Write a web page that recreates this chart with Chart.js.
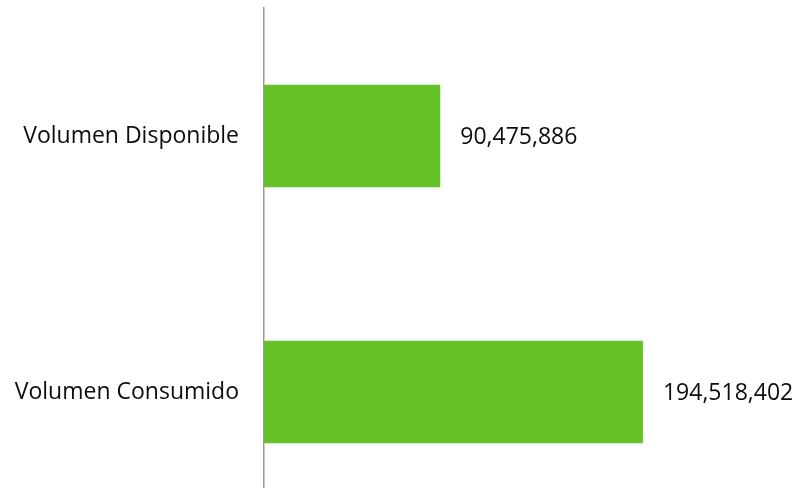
<!DOCTYPE html>
<html>
<head>
<meta charset="utf-8">
<script src="https://cdn.jsdelivr.net/npm/chart.js@4"></script>
<style>
  html, body { margin: 0; padding: 0; background: #fff; overflow: hidden; }
  canvas { display: block; }
</style>
</head>
<body>
<canvas id="chart" width="798" height="520" style="width:798px;height:520px"></canvas>
<script>
// Volumes per category
const categories = ['Volumen Disponible', 'Volumen Consumido'];
const volumes = [90475886, 194518402];
const axisMax = 270000000;

const barColor = '#65C125';
const textColor = '#0d0d0d';
const fontFamily = '"Open Sans", "Noto Sans", sans-serif';

// Writes each bar's value just past its end
const valueLabels = {
  id: 'valueLabels',
  afterDatasetsDraw(chart) {
    const ctx = chart.ctx;
    const meta = chart.getDatasetMeta(0);
    ctx.save();
    ctx.font = '23px ' + fontFamily;
    ctx.fillStyle = textColor;
    ctx.textAlign = 'left';
    ctx.textBaseline = 'middle';
    meta.data.forEach((bar, i) => {
      const v = chart.data.datasets[0].data[i];
      ctx.fillText(v.toLocaleString('en-US'), bar.x + 20, bar.y + 1);
    });
    ctx.restore();
  }
};

new Chart(document.getElementById('chart'), {
  type: 'bar',
  data: {
    labels: categories,
    datasets: [{
      data: volumes,
      backgroundColor: barColor,
      borderWidth: 0,
      categoryPercentage: 0.8,
      barPercentage: 0.5
    }]
  },
  options: {
    indexAxis: 'y',
    responsive: false,
    animation: false,
    layout: { padding: { top: 8, right: 8, left: 0, bottom: 0 } },
    plugins: { legend: { display: false }, tooltip: { enabled: false } },
    scales: {
      x: {
        display: false,
        min: 0,
        max: axisMax
      },
      y: {
        afterFit(scale) {
          scale.width = 264;
          scale.paddingTop = 0;
          scale.paddingBottom = 0;
        },
        grid: { display: false, drawTicks: false },
        border: { display: true, color: '#9a9a9a', width: 1.5 },
        ticks: {
          padding: 25,
          color: textColor,
          font: { family: fontFamily, size: 23 }
        }
      }
    }
  },
  plugins: [valueLabels]
});
</script>
</body>
</html>
